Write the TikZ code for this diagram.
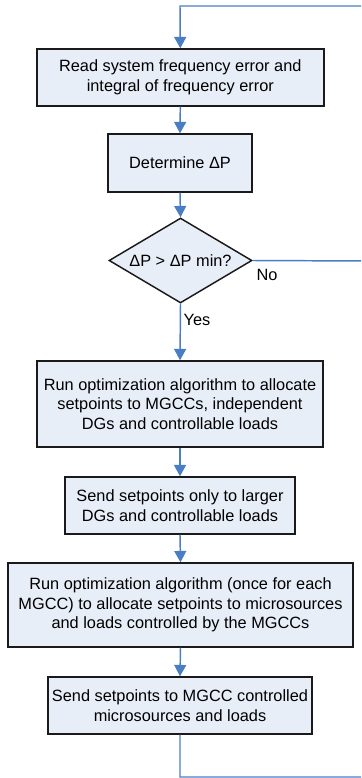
\documentclass[tikz,border=0pt]{standalone}
\usepackage{fontspec}
\setmainfont{Liberation Sans}
\usetikzlibrary{shapes.geometric,arrows.meta}
\definecolor{boxfill}{HTML}{E8EEF8}
\definecolor{linkblue}{HTML}{4A7EC4}
\definecolor{boxline}{HTML}{1A1A1A}
\begin{document}
\begin{tikzpicture}[x=0.75pt,y=-0.75pt,
  box/.style={draw=boxline,line width=1.1pt,fill=boxfill,rectangle,align=center,inner sep=0pt,
    font=\fontsize{12.25pt}{14.6pt}\selectfont},
  decision/.style={draw=boxline,line width=1.1pt,fill=boxfill,diamond,aspect=1.68,inner sep=0pt,
    minimum width=107.25pt,minimum height=63.75pt,font=\fontsize{12.25pt}{14.6pt}\selectfont},
  link/.style={draw=linkblue,line width=1.1pt},
  arr/.style={link,-{Triangle[width=9pt,length=8.5pt]}},
  lab/.style={font=\fontsize{12.25pt}{14.6pt}\selectfont,inner sep=0pt}]
\useasboundingbox (0,0) rectangle (361,778);
\clip (0,0) rectangle (361,778);
\node[box,minimum width=215.25pt,minimum height=42.75pt] (b1) at (180.3,77.5)
  {Read system frequency error and\\integral of frequency error};
\node[box,minimum width=108pt,minimum height=43.5pt] (b2) at (180,163) {Determine ΔP};
\node[decision] (d) at (180.5,260.5) {ΔP > ΔP min?};
\node[box,minimum width=214.5pt,minimum height=64.5pt] (b3) at (180,404)
  {Run optimization algorithm to allocate\\setpoints to MGCCs, independent\\DGs and controllable loads};
\node[box,minimum width=172.5pt,minimum height=42.75pt] (b4) at (180,505.5)
  {Send setpoints only to larger\\DGs and controllable loads};
\node[box,minimum width=258.75pt,minimum height=63pt] (b5) at (180.5,605)
  {Run optimization algorithm (once for each\\MGCC) to allocate setpoints to microsources\\and loads controlled by the MGCCs};
\node[box,minimum width=198pt,minimum height=42.75pt] (b6) at (180,705.5)
  {Send setpoints to MGCC controlled\\microsources and loads};
\node[lab] (no) at (267,275) {No};
\node[lab] (yes) at (197,320) {Yes};
\coordinate (bl) at (180,777);
\coordinate (br) at (366,777);
\coordinate (tr) at (366,6);
\coordinate (tl) at (180,6);
\coordinate (nr) at (366,261);
\draw[arr] (b1.south) -- (b2.north);
\draw[arr] (b2.south) -- (d.north);
\draw[arr] (d.south) -- (b3.north);
\draw[arr] (b3.south) -- (b4.north);
\draw[arr] (b4.south) -- (b5.north);
\draw[arr] (b5.south) -- (b6.north);
\draw[link] (d.east) -- (nr);
\draw[arr] (b6.south) -- (bl) -- (br) -- (tr) -- (tl) -- (b1.north);
\end{tikzpicture}
\end{document}
